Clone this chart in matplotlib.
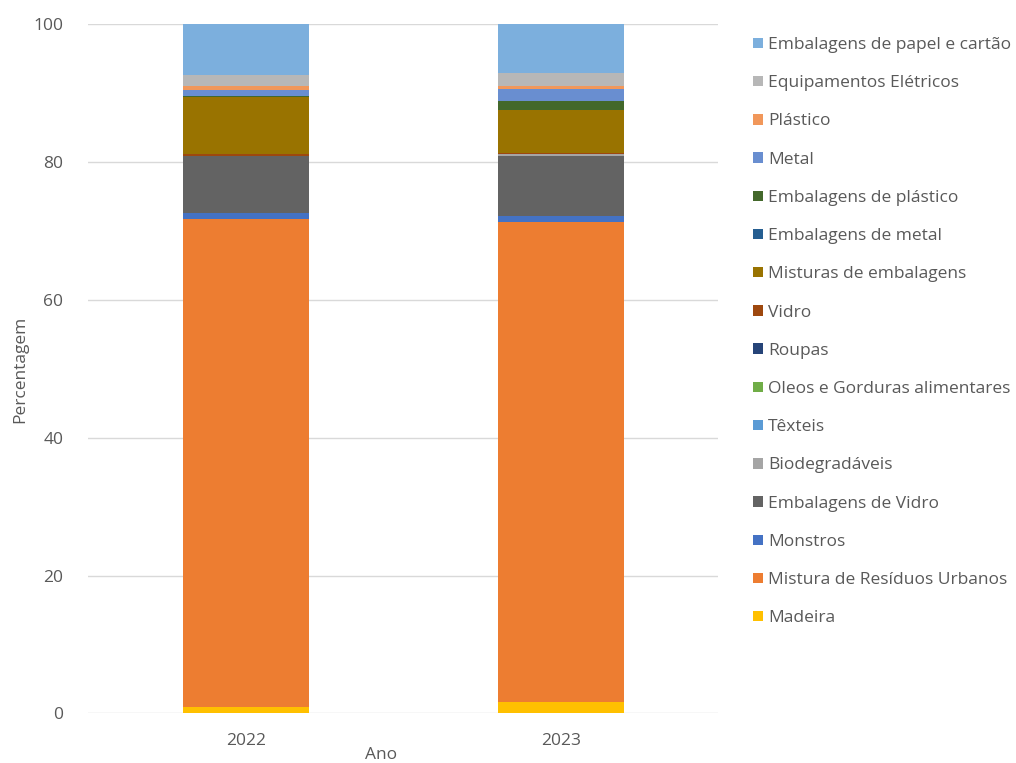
import numpy as np
import matplotlib
matplotlib.use("Agg")
import matplotlib.pyplot as plt

# anos e categorias (de baixo para cima na pilha)
anos = ["2022", "2023"]
categorias = [
    "Madeira",
    "Mistura de Resíduos Urbanos",
    "Monstros",
    "Embalagens de Vidro",
    "Biodegradáveis",
    "Têxteis",
    "Oleos e Gorduras alimentares",
    "Roupas",
    "Vidro",
    "Misturas de embalagens",
    "Embalagens de metal",
    "Embalagens de plástico",
    "Metal",
    "Plástico",
    "Equipamentos Elétricos",
    "Embalagens de papel e cartão",
]

# percentagens, pela mesma ordem das categorias
valores_2022 = [0.9, 70.9, 0.9, 8.26, 0.0, 0.0, 0.0, 0.0, 0.25, 8.2, 0.0, 0.2, 0.87, 0.64, 1.5, 7.38]
valores_2023 = [1.67, 69.67, 0.87, 8.7, 0.3, 0.0, 0.0, 0.0, 0.2, 6.24, 0.0, 1.2, 1.74, 0.48, 1.89, 7.04]

cores = [
    "#FFC000", "#ED7D31", "#4472C4", "#636363", "#A5A5A5", "#5B9BD5",
    "#70AD47", "#264478", "#9E480E", "#997300", "#255E91", "#43682B",
    "#698ED0", "#F1975A", "#B7B7B7", "#7CAFDD",
]

plt.rcParams['font.family'] = ['Open Sans', 'DejaVu Sans']

fig = plt.figure(figsize=(10.16, 7.63), dpi=100)
ax = fig.add_axes([0.0871, 0.0649, 0.62, 0.903])

x = np.arange(len(anos))
dados = np.array([valores_2022, valores_2023])
base = np.zeros(len(anos))
handles = []
for i, nome in enumerate(categorias):
    b = ax.bar(x, dados[:, i], 0.4, bottom=base, color=cores[i], label=nome, zorder=3)
    handles.append(b)
    base += dados[:, i]

ax.set_xlim(-0.5, 1.5)
ax.set_ylim(0, 100)
ax.set_yticks(np.arange(0, 101, 20))
ax.set_xticks(x)
ax.set_xticklabels(anos)
ax.yaxis.grid(True, color="#D9D9D9", linewidth=1, zorder=0)
for s in ax.spines.values():
    s.set_visible(False)
ax.tick_params(axis='both', length=0, colors="#595959", labelsize=12.5)
ax.tick_params(axis='y', pad=18)
ax.tick_params(axis='x', pad=14)
ax.set_ylabel("Percentagem", color="#595959", fontsize=12.5)
ax.yaxis.set_label_coords(-0.096, 0.5)
ax.set_xlabel("Ano", color="#595959", fontsize=12.5)
ax.xaxis.set_label_coords(0.465, -0.048)

leg = fig.legend(handles[::-1], categorias[::-1], loc="upper left",
                 bbox_to_anchor=(0.726, 0.972), frameon=False, fontsize=12.5,
                 handlelength=0.55, handleheight=0.55, handletextpad=0.3,
                 labelspacing=1.28, labelcolor="#595959")

fig.savefig("out.png", dpi=100)
